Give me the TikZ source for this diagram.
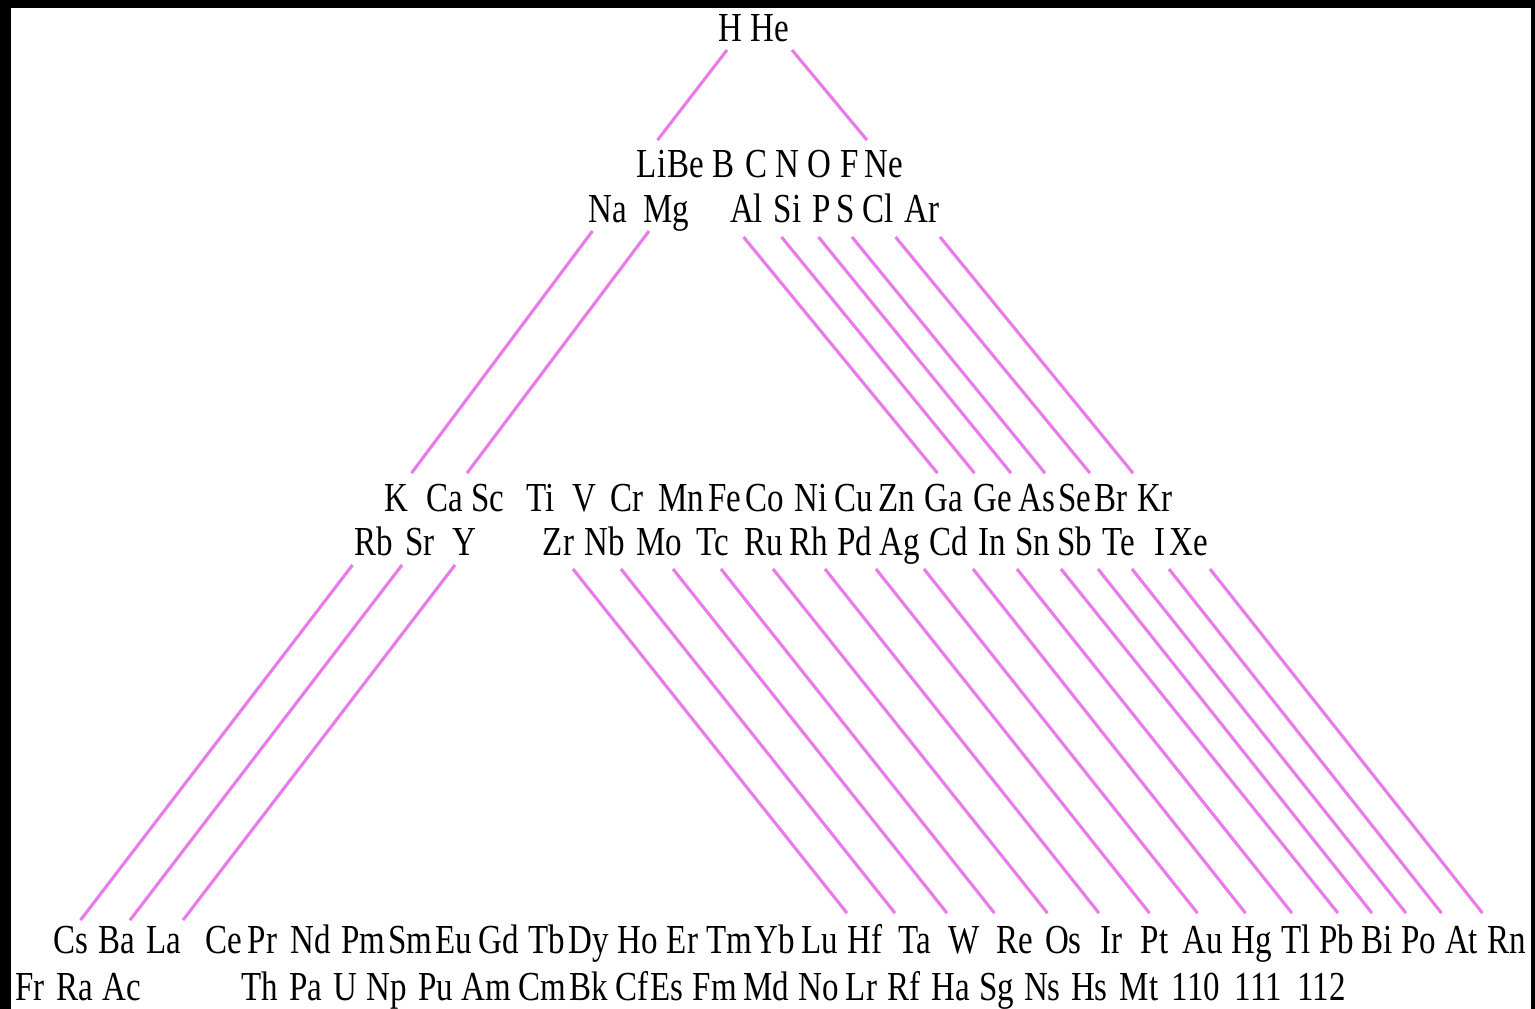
\documentclass[tikz,border=0pt]{standalone}
\usepackage{fontspec}
\setmainfont{Liberation Serif}
\definecolor{linkpink}{RGB}{234,122,234}
\tikzset{
  elem/.style={font=\fontsize{33}{33}\selectfont, inner sep=0pt,
    text height=20.5pt, text depth=7pt, yscale=1.25, anchor=base},
  link/.style={draw=linkpink, line width=3.1pt}
}
\begin{document}
\begin{tikzpicture}[x=1pt, y=-1pt]
    % frame
    \fill[black] (0,0) rectangle (1535,1009);
    \fill[white] (11,8) rectangle (1531,1009);
    % rows of elements
    \foreach \el/\x in {H/730, He/770}
        \node[elem] (\el) at (\x,41) {\el};
    \foreach \el/\x in {Li/651.5, Be/685.5, B/723, C/756.5, N/787.5, O/819.5, F/849.5, Ne/884}
        \node[elem] (\el) at (\x,177) {\el};
    \foreach \el/\x in {Na/607.5, Mg/666, Al/746.5, Si/787.5, P/821.5, S/846, Cl/878.5, Ar/922}
        \node[elem] (\el) at (\x,222) {\el};
    \foreach \el/\x in {K/396.5, Ca/445, Sc/488, Ti/541, V/584.5, Cr/627, Mn/681.5, Fe/725, Co/765,
        Ni/811, Cu/854, Zn/897, Ga/943.5, Ge/992.5, As/1037, Se/1075, Br/1111, Kr/1155}
        \node[elem] (\el) at (\x,511) {\el};
    \foreach \el/\x in {Rb/373.5, Sr/420, Y/464, Zr/558.5, Nb/605, Mo/659, Tc/712.5, Ru/763.5, Rh/809,
        Pd/855, Ag/900, Cd/949, In/992, Sn/1032.5, Sb/1075, Te/1118.5, I/1160, Xe/1188.5}
        \node[elem] (\el) at (\x,555) {\el};
    \foreach \el/\x in {Cs/70.5, Ba/117, La/164, Ce/223.5, Pr/262.5, Nd/310.5, Pm/363.5, Sm/410.5,
        Eu/454, Gd/498.5, Tb/546.5, Dy/588.5, Ho/637.5, Er/682.5, Tm/729, Yb/775, Lu/820,
        Hf/865, Ta/915, W/964, Re/1014.5, Os/1063.5, Ir/1111, Pt/1154.5, Au/1202.5,
        Hg/1251.5, Tl/1296, Pb/1337, Bi/1377, Po/1419, At/1461.5, Rn/1506.5}
        \node[elem] (\el) at (\x,953) {\el};
    \foreach \el/\x in {Fr/30, Ra/75, Ac/121.5, Th/260, Pa/306, U/345.5, Np/386.5, Pu/436, Am/486,
        Cm/542.5, Bk/589, Cf/632, Es/666.5, Fm/715, Md/766.5, No/818.5, Lr/861.5, Rf/904,
        Ha/950.5, Sg/996.5, Ns/1042.5, Hs/1089.5, Mt/1139, 110/1196, 111/1258.5, 112/1321.5}
        \node[elem] (\el) at (\x,1000) {\el};
    % links between rows
    \draw[link] ([xshift=-3pt]H.south) -- ([xshift=6pt, yshift=11pt]Li.north);
    \draw[link] ([xshift=22pt]He.south) -- ([xshift=-17pt, yshift=11pt]Ne.north);
    \draw[link] ([xshift=-15pt]Na.south) -- ([xshift=15pt, yshift=12pt]K.north);
    \draw[link] ([xshift=-17pt]Mg.south) -- ([xshift=22pt, yshift=12pt]Ca.north);
    \foreach \a/\b/\u/\v in {Al/Ga/-3/-6, Si/Ge/-6/-18, P/As/-3/-26, S/Se/6/-30, Cl/Br/17/-21, Ar/Kr/18/-22}
        \draw[link] ([xshift=\u pt, yshift=-6pt]\a.south) -- ([xshift=\v pt, yshift=12pt]\b.north);
    \foreach \a/\b/\u/\v in {Rb/Cs/-21/10, Sr/Ba/-18/13, Y/La/-9/19}
        \draw[link] ([xshift=\u pt, yshift=-1pt]\a.south) -- ([xshift=\v pt, yshift=7pt]\b.north);
    \foreach \a/\b/\u/\v in {Zr/Hf/14.5/-18, Nb/Ta/16/-20, Mo/W/14/-17, Tc/Re/8.5/-20, Ru/Os/9.5/-16,
        Rh/Ir/16/-12, Pd/Pt/21/-5, Ag/Au/24/-5, Cd/Hg/24/-6, In/Tl/25/-4, Sn/Pb/28.5/1,
        Sb/Bi/23/-5, Te/Po/13.5/-13, I/At/9/-20, Xe/Rn/21.5/-24}
        \draw[link] ([xshift=\u pt, yshift=-5pt]\a.south) -- ([xshift=\v pt, yshift=14pt]\b.north);
\end{tikzpicture}
\end{document}
